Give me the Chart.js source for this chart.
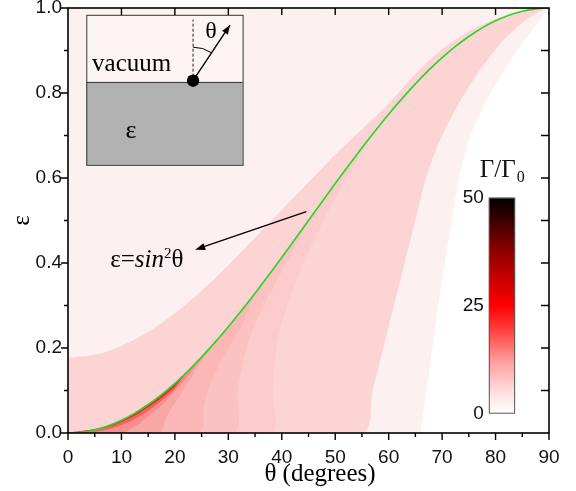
<!DOCTYPE html>
<html>
<head>
<meta charset="utf-8">
<script src="https://cdn.jsdelivr.net/npm/chart.js@4/dist/chart.umd.min.js"></script>
<style>
  html, body { margin: 0; padding: 0; background: #ffffff; }
  #wrap { width: 576px; height: 491px; }
</style>
</head>
<body>
<div id="wrap"><canvas id="chart" width="576" height="491"></canvas></div>
<script>
// Emission angle θ (degrees) and the critical line ε = sin²θ
const thetaDeg = [0, 2.5, 5, 7.5, 10, 12.5, 15, 17.5, 20, 22.5, 25, 27.5, 30, 32.5, 35, 37.5, 40, 42.5, 45,
                  47.5, 50, 52.5, 55, 57.5, 60, 62.5, 65, 67.5, 70, 72.5, 75, 77.5, 80, 82.5, 85, 87.5, 90];
const epsSin2 = [0, 0.0019, 0.0076, 0.0170, 0.0302, 0.0468, 0.0670, 0.0904, 0.1170, 0.1464, 0.1786, 0.2132,
                 0.2500, 0.2887, 0.3290, 0.3706, 0.4132, 0.4564, 0.5000, 0.5436, 0.5868, 0.6294, 0.6710,
                 0.7113, 0.7500, 0.7868, 0.8214, 0.8536, 0.8830, 0.9096, 0.9330, 0.9532, 0.9698, 0.9830,
                 0.9924, 0.9981, 1.0000];

// Γ/Γ0 contour edges, [θ, ε]
const edgeUpper = [[0, 0.177], [5, 0.184], [10, 0.205], [15, 0.238], [20, 0.282], [25, 0.335], [30, 0.395],
                   [35, 0.46], [40, 0.525], [45, 0.59], [50, 0.655], [55, 0.715], [60, 0.775], [65, 0.845],
                   [70, 0.903], [75, 0.945], [80, 0.974], [85, 0.993], [88, 1.0]];
const edgeLower = [[55, 0], [57, 0.1], [59, 0.2], [61, 0.3], [63, 0.4], [65, 0.5], [67, 0.6], [69.3, 0.68],
                   [72, 0.75], [75, 0.815], [78, 0.87], [81.5, 0.925], [85, 0.965], [89, 1.0]];
const edgeZero  = [[66, 0], [67.1, 0.1], [68.2, 0.2], [69.3, 0.3], [70.5, 0.4], [71.8, 0.5], [73.2, 0.6],
                   [74.8, 0.68], [77, 0.75], [80, 0.82], [83.5, 0.89], [87, 0.95], [90, 1.0]];
// enhancement ridges below the critical line (first point sits on the line)
const ridge1 = [[57.5, 0.7113], [53, 0.62], [49, 0.53], [45.5, 0.44], [42.5, 0.35], [40.3, 0.27], [39, 0.2], [38.3, 0.1], [38, 0]];
const ridge2 = [[45, 0.5], [42.5, 0.44], [40, 0.38], [37, 0.31], [34.6, 0.243], [33, 0.18], [31.8, 0.1], [31, 0]];
const ridge3 = [[35, 0.329], [33.5, 0.28], [32.1, 0.243], [30, 0.2], [27.5, 0.14], [25.5, 0.07], [24.5, 0]];
const ridge4 = [[27.5, 0.2132], [25.5, 0.18], [23.5, 0.14], [21, 0.09], [18.5, 0.04], [17, 0]];
const ridge5 = [[25, 0.1786], [22.5, 0.135], [20, 0.098], [17, 0.06], [13.5, 0.025], [10, 0]];
const ridge6 = [[22.5, 0.1464], [20, 0.104], [17.5, 0.076], [15, 0.052], [12.5, 0.033], [10, 0.019], [7.5, 0.009], [5, 0.003]];
const ridge7 = [[21.5, 0.134], [20, 0.1095], [17.5, 0.083], [15, 0.0605], [12.5, 0.041], [10, 0.026], [7.5, 0.0145]];

// axis ticks
const xMajor = [0, 10, 20, 30, 40, 50, 60, 70, 80, 90];
const xMinor = [5, 15, 25, 35, 45, 55, 65, 75, 85];
const yMajor = [0, 0.2, 0.4, 0.6, 0.8, 1.0];
const yMinor = [0.1, 0.3, 0.5, 0.7, 0.9];

// colour bar Γ/Γ0
const cbarTicks  = [0, 25, 50];
const cbarLevels = [0, 5, 12.5, 18, 25, 37.5, 50];
const cbarColors = ['#ffffff', '#ffe0e0', '#ff9a9a', '#ff5050', '#ff0000', '#900000', '#000000'];

const P = arr => arr.map(([x, y]) => ({x, y}));
const curvePts = thetaDeg.map((t, i) => ({x: t, y: epsSin2[i]}));

// closed region between a ridge and the critical line
function pocket(ridge) {
  const top = ridge[0][0];
  const pts = P(ridge);
  thetaDeg.forEach((t, i) => { if (t < top) pts.push({x: t, y: epsSin2[i]}); });
  return pts;
}
function region(points, color, order) {
  return { data: points, showLine: true, fill: 'shape', backgroundColor: color,
           borderColor: 'rgba(0,0,0,0)', borderWidth: 0, pointRadius: 0, tension: 0.3, order };
}

const serif = '"Liberation Serif", "Times New Roman", serif';
const sans = '"Liberation Sans", Arial, sans-serif';

function arrowHead(ctx, x1, y1, x2, y2, len, half) {
  const a = Math.atan2(y2 - y1, x2 - x1);
  ctx.beginPath();
  ctx.moveTo(x2, y2);
  ctx.lineTo(x2 - len * Math.cos(a) + half * Math.sin(a), y2 - len * Math.sin(a) - half * Math.cos(a));
  ctx.lineTo(x2 - len * Math.cos(a) - half * Math.sin(a), y2 - len * Math.sin(a) + half * Math.cos(a));
  ctx.closePath();
  ctx.fill();
}

const decor = {
  id: 'decor',
  beforeDatasetsDraw(chart) {
    const {ctx, chartArea: a} = chart;
    ctx.save();
    ctx.fillStyle = '#fdf0f0';
    ctx.fillRect(a.left, a.top, a.right - a.left, a.bottom - a.top);
    ctx.restore();
  },
  afterDatasetsDraw(chart) {
    const {ctx, chartArea: a, scales: {x, y}} = chart;
    const X = v => x.getPixelForValue(v), Y = v => y.getPixelForValue(v);
    ctx.save();

    // inset: dipole above a dielectric half-space
    const bx0 = X(3.42), bx1 = X(32.67), by0 = Y(0.984), by1 = Y(0.631), byd = Y(0.826);
    ctx.fillStyle = '#fdf4f4';
    ctx.fillRect(bx0, by0, bx1 - bx0, byd - by0);
    ctx.fillStyle = '#b1b1b1';
    ctx.fillRect(bx0, byd, bx1 - bx0, by1 - byd);
    ctx.strokeStyle = '#333';
    ctx.lineWidth = 1;
    ctx.strokeRect(bx0 + 0.5, by0 + 0.5, bx1 - bx0, by1 - by0);
    ctx.beginPath(); ctx.moveTo(bx0, byd + 0.5); ctx.lineTo(bx1, byd + 0.5); ctx.stroke();

    ctx.fillStyle = '#000';
    ctx.font = '25px ' + serif;
    ctx.textAlign = 'left'; ctx.textBaseline = 'alphabetic';
    ctx.fillText('vacuum', X(4.5), Y(0.851));
    ctx.font = '26px ' + serif;
    ctx.textAlign = 'center'; ctx.textBaseline = 'middle';
    ctx.fillText('ε', X(11.8), Y(0.711));

    const dx = X(23.4), dy = Y(0.829);
    ctx.setLineDash([3, 2]);
    ctx.strokeStyle = '#222';
    ctx.beginPath(); ctx.moveTo(dx, dy - 4); ctx.lineTo(dx, Y(0.9725)); ctx.stroke();
    ctx.setLineDash([]);
    const tx = X(30.3), ty = Y(0.9595);
    ctx.lineWidth = 1.4;
    ctx.strokeStyle = '#000';
    ctx.beginPath(); ctx.moveTo(dx, dy); ctx.lineTo(tx, ty); ctx.stroke();
    arrowHead(ctx, dx, dy, tx, ty, 9, 3.5);
    ctx.lineWidth = 1;
    ctx.beginPath(); ctx.arc(dx, dy, 33.5, -Math.PI / 2, Math.atan2(ty - dy, tx - dx)); ctx.stroke();
    ctx.beginPath(); ctx.arc(dx, dy, 6.2, 0, Math.PI * 2); ctx.fill();
    ctx.font = '24px ' + serif;
    ctx.fillText('θ', X(26.75), Y(0.945));

    // label for the critical line
    const ax0 = X(44.6), ay0 = Y(0.521), ax1 = X(23.8), ay1 = Y(0.431);
    ctx.lineWidth = 1.3;
    ctx.beginPath(); ctx.moveTo(ax0, ay0); ctx.lineTo(ax1 + 8, ay1 - 3); ctx.stroke();
    arrowHead(ctx, ax0, ay0, ax1, ay1, 10, 3.6);
    ctx.textAlign = 'left'; ctx.textBaseline = 'alphabetic';
    let px = X(7.9); const base = Y(0.391);
    const parts = [['ε=', '25px ' + serif, 0], ['sin', 'italic 25px ' + serif, 0],
                   ['2', '15px ' + serif, -9], ['θ', '25px ' + serif, 0]];
    for (const [t, f, dyOff] of parts) {
      ctx.font = f;
      ctx.fillText(t, px, base + dyOff);
      px += ctx.measureText(t).width;
    }

    // colour bar
    const cx0 = X(78.74), cx1 = X(83.66), cTop = Y(0.5536), cBot = Y(0.0454);
    const g = ctx.createLinearGradient(0, cBot, 0, cTop);
    cbarLevels.forEach((v, i) => g.addColorStop(v / 50, cbarColors[i]));
    ctx.fillStyle = g;
    ctx.fillRect(cx0, cTop, cx1 - cx0, cBot - cTop);
    ctx.strokeStyle = '#555';
    ctx.lineWidth = 1;
    ctx.strokeRect(cx0 + 0.5, cTop + 0.5, cx1 - cx0 - 1, cBot - cTop - 1);
    ctx.fillStyle = '#111';
    ctx.font = '19px ' + sans;
    ctx.textAlign = 'right'; ctx.textBaseline = 'middle';
    for (const v of cbarTicks) ctx.fillText(String(v), cx0 - 5, cBot + (cTop - cBot) * v / 50);
    ctx.textAlign = 'left'; ctx.textBaseline = 'alphabetic';
    ctx.font = '25px ' + serif;
    let gx = cx0 - 9; const gb = Y(0.603);
    ctx.fillText('Γ/Γ', gx, gb);
    gx += ctx.measureText('Γ/Γ').width;
    ctx.font = '16px ' + serif;
    ctx.fillText('0', gx + 1, gb + 5);

    // frame and ticks
    ctx.strokeStyle = '#000';
    ctx.lineWidth = 1.6;
    ctx.strokeRect(a.left, a.top, a.right - a.left, a.bottom - a.top);
    ctx.lineWidth = 1.4;
    ctx.beginPath();
    for (const v of xMajor) { ctx.moveTo(X(v), a.bottom); ctx.lineTo(X(v), a.bottom + 7); }
    for (const v of xMinor) { ctx.moveTo(X(v), a.bottom); ctx.lineTo(X(v), a.bottom + 4); }
    for (const v of yMajor) { ctx.moveTo(a.left, Y(v)); ctx.lineTo(a.left - 7, Y(v)); }
    for (const v of yMinor) { ctx.moveTo(a.left, Y(v)); ctx.lineTo(a.left - 4, Y(v)); }
    for (const v of xMajor.slice(1, -1)) { ctx.moveTo(X(v), a.top); ctx.lineTo(X(v), a.top + 7); }
    for (const v of yMajor.slice(1, -1).concat(yMinor)) { ctx.moveTo(a.right, Y(v)); ctx.lineTo(a.right - 8, Y(v)); }
    ctx.stroke();

    // axis titles
    ctx.fillStyle = '#000';
    ctx.font = '25px ' + serif;
    ctx.textAlign = 'center'; ctx.textBaseline = 'alphabetic';
    ctx.fillText('θ (degrees)', 320, 481);
    ctx.save();
    ctx.translate(22, (a.top + a.bottom) / 2);
    ctx.rotate(-Math.PI / 2);
    ctx.textBaseline = 'middle';
    ctx.font = '25px ' + serif;
    ctx.fillText('ε', 0, 0);
    ctx.restore();

    ctx.restore();
  }
};

const mediumBand = P(edgeUpper).concat(P(edgeLower.slice().reverse()), [{x: 0, y: 0}]);
const zeroBand = P(edgeZero).concat([{x: 90, y: 0}]);

new Chart(document.getElementById('chart'), {
  type: 'line',
  data: {
    datasets: [
      { data: curvePts, showLine: true, fill: false, borderColor: '#2bd62b', borderWidth: 1.7,
        pointRadius: 0, tension: 0.3, order: 0 },
      region(pocket(ridge7), '#ea2a2a', 1),
      region(pocket(ridge6), '#f26262', 2),
      region(pocket(ridge5), '#f68e8e', 3),
      region(pocket(ridge4), '#f9a6a6', 4),
      region(pocket(ridge3), '#fbb6b6', 5),
      region(pocket(ridge2), '#fcc2c2', 6),
      region(pocket(ridge1), '#fccccc', 7),
      region(mediumBand, '#fdd4d4', 8),
      region(zeroBand, '#ffffff', 9)
    ]
  },
  options: {
    responsive: false,
    animation: false,
    devicePixelRatio: 1,
    layout: { padding: { top: 8, right: 27, left: 0, bottom: 0 } },
    plugins: { legend: { display: false }, tooltip: { enabled: false } },
    scales: {
      x: {
        type: 'linear', min: 0, max: 90,
        grid: { display: false, drawTicks: false }, border: { display: false },
        ticks: { stepSize: 10, padding: 13, color: '#111', font: { family: sans, size: 19 } },
        afterFit: s => { s.height = 58; s.paddingLeft = 0; s.paddingRight = 0; }
      },
      y: {
        type: 'linear', min: 0, max: 1,
        grid: { display: false, drawTicks: false }, border: { display: false },
        ticks: { stepSize: 0.2, padding: 6, color: '#111', font: { family: sans, size: 19 },
                 callback: v => v.toFixed(1) },
        afterFit: s => { s.width = 68; s.paddingTop = 0; s.paddingBottom = 0; }
      }
    }
  },
  plugins: [decor]
});
</script>
</body>
</html>
